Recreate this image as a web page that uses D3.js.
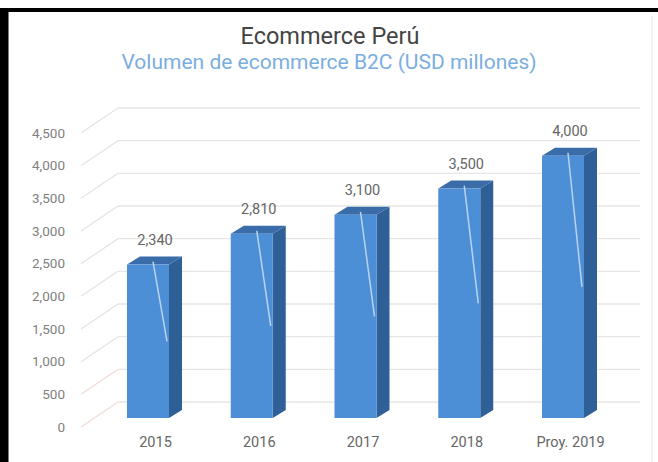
<!DOCTYPE html>
<html>
<head>
<meta charset="utf-8">
<script src="https://cdn.jsdelivr.net/npm/d3@7"></script>
<style>
  html, body { margin: 0; padding: 0; background: #fff; }
  svg { display: block; }
  text { font-family: Roboto, "Noto Sans", sans-serif; }
</style>
</head>
<body>
<div id="chart"></div>
<script>
// Ecommerce B2C volume in Peru (USD millions)
const categories = ["2015", "2016", "2017", "2018", "Proy. 2019"];
const values = [2340, 2810, 3100, 3500, 4000];
const tickValues = [0, 500, 1000, 1500, 2000, 2500, 3000, 3500, 4000, 4500];
const titleText = "Ecommerce Perú";
const subtitleText = "Volumen de ecommerce B2C (USD millones)";

const W = 658, H = 462;
const svg = d3.select("#chart").append("svg")
  .attr("width", W).attr("height", H);

// Page frame: black edges on the left and top, faint panel edge on the right
svg.append("rect").attr("x", 0).attr("y", 0).attr("width", W).attr("height", H).attr("fill", "#fff");
svg.append("line").attr("x1", 652).attr("x2", 652).attr("y1", 16).attr("y2", H)
  .attr("stroke", "#ececec").attr("stroke-width", 1.5);
svg.append("rect").attr("x", 0).attr("y", 8).attr("width", W).attr("height", 4).attr("fill", "#000");
svg.append("rect").attr("x", 0).attr("y", 8).attr("width", 8.5).attr("height", H - 8).attr("fill", "#000");

// Titles
svg.append("text").attr("x", 330).attr("y", 44).attr("text-anchor", "middle")
  .attr("font-size", 23.5).attr("fill", "#444").text(titleText);
svg.append("text").attr("x", 329).attr("y", 69).attr("text-anchor", "middle")
  .attr("font-size", 21).attr("fill", "#7aaee0").text(subtitleText);

// Scales: front labels, back wall gridlines (shifted for depth), bar heights
const yMax = d3.max(tickValues);
const yFront = d3.scaleLinear().domain([0, yMax]).range([427, 133]);
const wallShift = 25;
const yBar = d3.scaleLinear().domain([0, yMax]).range([418, 123]);
const x = d3.scalePoint().domain(categories).range([155, 570]);

const wallX0 = 118, wallX1 = 640, labelX = 81;

// Gridlines: diagonal from the front edge up to the back wall, then across it
const grid = svg.append("g");
tickValues.forEach(v => {
  const yf = yFront(v), yb = yFront(v) - wallShift;
  const col = v <= 500 ? "#f1dcd8" : "#e4e4e4";
  grid.append("line").attr("x1", labelX).attr("y1", yf).attr("x2", wallX0).attr("y2", yb)
    .attr("stroke", col).attr("stroke-width", 1.3);
  grid.append("line").attr("x1", wallX0).attr("y1", yb).attr("x2", wallX1).attr("y2", yb)
    .attr("stroke", "#e6e6e6").attr("stroke-width", 1.3);
});

// Y axis labels
const yAxis = d3.axisLeft(yFront).tickValues(tickValues).tickSize(0).tickPadding(0)
  .tickFormat(d3.format(","));
const gy = svg.append("g").attr("transform", "translate(65,0)").call(yAxis);
gy.select(".domain").remove();
gy.selectAll("text").attr("font-family", "Roboto, sans-serif").attr("font-size", 13.5)
  .attr("fill", "#808080");

// 3D bars
const frontL = -28, frontR = 14, dx = 13, dy = -8;
const base = yBar(0);
const bars = svg.append("g").selectAll("g").data(categories.map((c, i) => ({ c, v: values[i] })))
  .join("g");

bars.append("polygon")   // side face
  .attr("points", d => {
    const cx = x(d.c), t = yBar(d.v);
    return [[cx + frontR, t], [cx + frontR + dx, t + dy], [cx + frontR + dx, base + dy], [cx + frontR, base]].join(" ");
  })
  .attr("fill", "#2f5f97");

bars.append("polygon")   // top face
  .attr("points", d => {
    const cx = x(d.c), t = yBar(d.v);
    return [[cx + frontL, t], [cx + frontL + dx, t + dy], [cx + frontR + dx, t + dy], [cx + frontR, t]].join(" ");
  })
  .attr("fill", "#396ca8");

bars.append("rect")      // front face
  .attr("x", d => x(d.c) + frontL)
  .attr("y", d => yBar(d.v))
  .attr("width", frontR - frontL)
  .attr("height", d => base - yBar(d.v))
  .attr("fill", "#4d8fd7");

bars.append("line")      // label leader line
  .attr("x1", d => x(d.c) - 2)
  .attr("y1", d => yBar(d.v) - 3)
  .attr("x2", d => x(d.c) + 12)
  .attr("y2", d => yBar(d.v) + (base - yBar(d.v)) / 2)
  .attr("stroke", "#b9d3ef").attr("stroke-width", 1.5);

// Value labels
bars.append("text")
  .attr("x", d => x(d.c))
  .attr("y", d => yBar(d.v) - 20)
  .attr("text-anchor", "middle")
  .attr("font-size", 14.5).attr("fill", "#666")
  .text(d => d3.format(",")(d.v));

// Category labels
const xAxis = d3.axisBottom(x).tickSize(0).tickPadding(0);
const gx = svg.append("g").attr("transform", "translate(0,436)").call(xAxis);
gx.select(".domain").remove();
gx.selectAll("text").attr("font-family", "Roboto, sans-serif").attr("font-size", 14.5)
  .attr("fill", "#666").attr("dy", "0.35em").attr("y", 6);
</script>
</body>
</html>
